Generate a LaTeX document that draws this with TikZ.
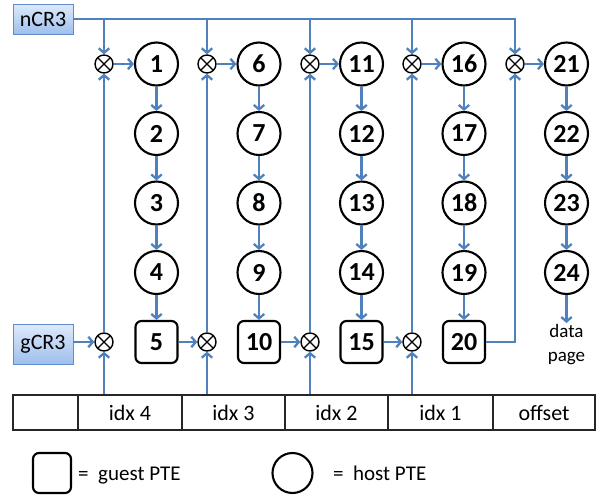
\documentclass[tikz,border=0pt]{standalone}
\usepackage{fontspec}
\setmainfont{Carlito}
\usetikzlibrary{arrows.meta,shadows}
\definecolor{flowblue}{RGB}{79,129,189}
\definecolor{regtop}{RGB}{222,234,251}
\definecolor{regbot}{RGB}{158,191,237}
\definecolor{regedge}{RGB}{96,140,204}

\begin{document}
\begin{tikzpicture}[x=1pt,y=-1pt,
  flow/.style={draw=flowblue, line width=2.3pt, -{Straight Barb[length=4.5pt,width=10.5pt]}},
  host/.style={circle, draw, line width=2.1pt, minimum size=43pt, inner sep=0pt,
    font=\fontsize{26}{26}\selectfont\bfseries},
  guest/.style={rectangle, rounded corners=6pt, draw, line width=2.1pt, minimum size=42pt,
    inner sep=0pt, font=\fontsize{26}{26}\selectfont\bfseries},
  mul/.style={circle, draw, line width=1.4pt, minimum size=18pt, inner sep=0pt,
    path picture={\draw[line width=1.1pt]
      (path picture bounding box.north west) -- (path picture bounding box.south east)
      (path picture bounding box.north east) -- (path picture bounding box.south west);}},
  reg/.style={draw=regedge, line width=0.8pt, top color=regtop, bottom color=regbot,
    minimum width=60pt, inner sep=0pt, font=\fontsize{22}{22}\selectfont,
    drop shadow={shadow xshift=1.2pt, shadow yshift=-1.2pt, opacity=0.25, fill=black}},
  cell/.style={draw=black!85, line width=1.2pt, minimum height=35pt, inner sep=0pt,
    font=\fontsize{22}{22}\selectfont},
  legend/.style={anchor=base west, inner sep=0pt, font=\fontsize{21}{21}\selectfont},
]
\useasboundingbox (0,0) rectangle (597,499);

% control registers
\node[reg, minimum height=30pt] (ncr) at (43,19) {nCR3};
\node[reg, minimum height=40pt] (gcr) at (43,344) {gCR3};

% host page-table walks (circles) with their combining nodes on top
\foreach \c/\xo/\xp in {1/104/156.5, 2/207/259, 3/310/361.5, 4/412/464, 5/515/566.5}{
  \node[mul] (ot\c) at (\xo,64) {};
  \foreach \r/\y in {1/64, 2/133.5, 3/203, 4/272.5}{
    \pgfmathtruncatemacro\n{5*(\c-1)+\r}
    \node[host] (p\n) at (\xp,\y) {\n};
  }
}

% guest page-table entries and their combining nodes
\foreach \c/\xo/\xp in {1/104/156.5, 2/207/259, 3/310/361.5, 4/412/464}{
  \pgfmathtruncatemacro\n{5*\c}
  \node[guest] (p\n) at (\xp,342) {\n};
  \node[mul] (og\c) at (\xo,342) {};
}

% virtual address fields
\node[cell, minimum width=65pt]  (t0) at (45.5,412.5)  {};
\node[cell, minimum width=104pt] (t4) at (130,412.5)   {idx 4};
\node[cell, minimum width=103pt] (t3) at (233.5,412.5) {idx 3};
\node[cell, minimum width=103pt] (t2) at (336.5,412.5) {idx 2};
\node[cell, minimum width=105pt] (t1) at (440.5,412.5) {idx 1};
\node[cell, minimum width=102pt] (t5) at (544,412.5)   {offset};

% data page label
\node[anchor=north, align=center, inner sep=1pt, font=\fontsize{19}{24}\selectfont]
  (dp) at (566.5,323) {data\\page};

% nCR3 feeds every host walk
\draw[flow] (ncr.east) -| (ot5);
\foreach \c in {1,...,4}{
  \draw[flow] (ot\c |- ncr.east) -- (ot\c);
}

% entries along each walk
\foreach \c in {1,...,5}{
  \pgfmathtruncatemacro\a{5*(\c-1)+1}
  \draw[flow] (ot\c) -- (p\a);
}
\foreach \a in {1,2,3,4,6,7,8,9,11,12,13,14,16,17,18,19,21,22,23}{
  \pgfmathtruncatemacro\b{\a+1}
  \draw[flow] (p\a) -- (p\b);
}
\draw[flow] (p24) -- (dp.north);

% guest walk
\draw[flow] (gcr.east |- og1) -- (og1);
\draw[flow] (p5) -- (og2);
\draw[flow] (p10) -- (og3);
\draw[flow] (p15) -- (og4);
\draw[flow] (p20.east) -| (ot5);
\foreach \c in {1,...,4}{
  \draw[flow] (og\c) -- (ot\c);
}

% index fields into the guest walk
\draw[flow] (og1 |- t4.north) -- (og1);
\draw[flow] (og2 |- t3.north) -- (og2);
\draw[flow] (og3 |- t2.north) -- (og3);
\draw[flow] (og4 |- t1.north) -- (og4);

% legend
\node[guest, minimum width=38pt, minimum height=40pt] (lg) at (52,473) {};
\node[legend] (lgt) at (78,480) {=~~guest PTE};
\node[host, minimum size=40pt] (lh) at (292.5,473) {};
\node[legend] (lht) at (333,480) {=~~host PTE};
\end{tikzpicture}
\end{document}
